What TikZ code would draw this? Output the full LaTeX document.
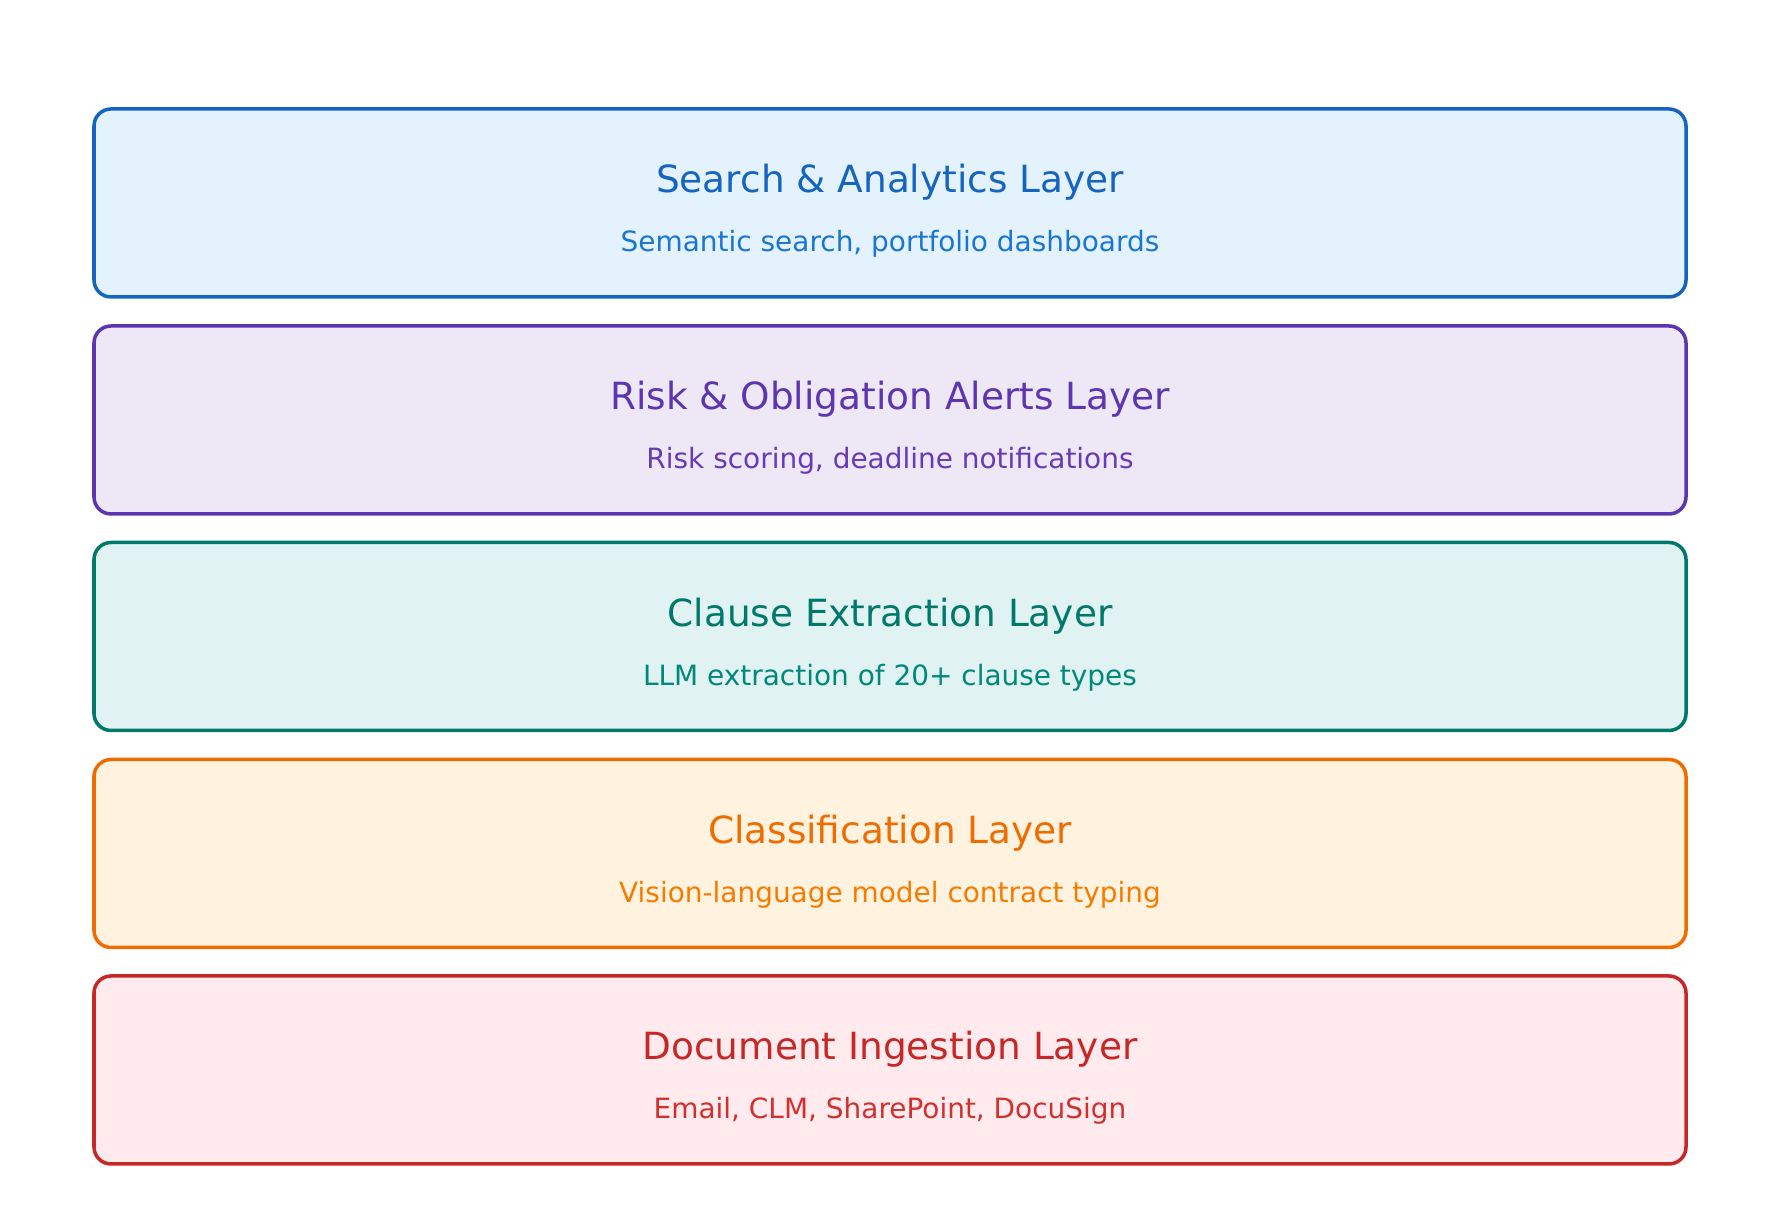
\documentclass[tikz,border=0pt]{standalone}
\usepackage{fontspec}
\setmainfont{DejaVu Sans}
\usepackage{xcolor}
\definecolor{searchblue}{HTML}{1565C0}
\definecolor{searchsub}{HTML}{1976D2}
\definecolor{searchfill}{HTML}{E3F2FD}
\definecolor{riskpurple}{HTML}{5E35B1}
\definecolor{risksub}{HTML}{673AB7}
\definecolor{riskfill}{HTML}{EDE7F6}
\definecolor{clauseteal}{HTML}{00796B}
\definecolor{clausesub}{HTML}{00897B}
\definecolor{clausefill}{HTML}{E0F2F1}
\definecolor{classorange}{HTML}{EF6C00}
\definecolor{classsub}{HTML}{F57C00}
\definecolor{classfill}{HTML}{FFF3E0}
\definecolor{ingestred}{HTML}{C62828}
\definecolor{ingestsub}{HTML}{D32F2F}
\definecolor{ingestfill}{HTML}{FFEBEE}
\usepackage{tikz}
\usetikzlibrary{positioning}

\begin{document}
\begin{tikzpicture}[
  layer/.style={rectangle, rounded corners=0.34cm, line width=2pt,
    minimum width=31.84cm, minimum height=3.76cm},
  title/.style={anchor=base, font=\fontsize{21.3}{26}\selectfont},
  sub/.style={anchor=base, font=\fontsize{15.9}{19}\selectfont}
]
\useasboundingbox (0,0) rectangle (35.58,24.4);

% Layers, top to bottom
\node[layer, fill=searchfill, draw=searchblue] (search) at (17.8, 20.34) {};
\node[layer, fill=riskfill, draw=riskpurple] (risk) at (17.8, 16.00) {};
\node[layer, fill=clausefill, draw=clauseteal] (clause) at (17.8, 11.67) {};
\node[layer, fill=classfill, draw=classorange] (class) at (17.8, 7.33) {};
\node[layer, fill=ingestfill, draw=ingestred] (ingest) at (17.8, 3.00) {};

% Labels
\node[title, text=searchblue, yshift=0.2cm] (searchT) at (search.center) {Search \& Analytics Layer};
\node[sub, text=searchsub, yshift=-0.98cm] (searchS) at (search.center) {Semantic search, portfolio dashboards};

\node[title, text=riskpurple, yshift=0.2cm] (riskT) at (risk.center) {Risk \& Obligation Alerts Layer};
\node[sub, text=risksub, yshift=-0.98cm] (riskS) at (risk.center) {Risk scoring, deadline notifications};

\node[title, text=clauseteal, yshift=0.2cm] (clauseT) at (clause.center) {Clause Extraction Layer};
\node[sub, text=clausesub, yshift=-0.98cm] (clauseS) at (clause.center) {LLM extraction of 20+ clause types};

\node[title, text=classorange, yshift=0.2cm] (classT) at (class.center) {Classification Layer};
\node[sub, text=classsub, yshift=-0.98cm] (classS) at (class.center) {Vision-language model contract typing};

\node[title, text=ingestred, yshift=0.2cm] (ingestT) at (ingest.center) {Document Ingestion Layer};
\node[sub, text=ingestsub, yshift=-0.98cm] (ingestS) at (ingest.center) {Email, CLM, SharePoint, DocuSign};
\end{tikzpicture}
\end{document}
